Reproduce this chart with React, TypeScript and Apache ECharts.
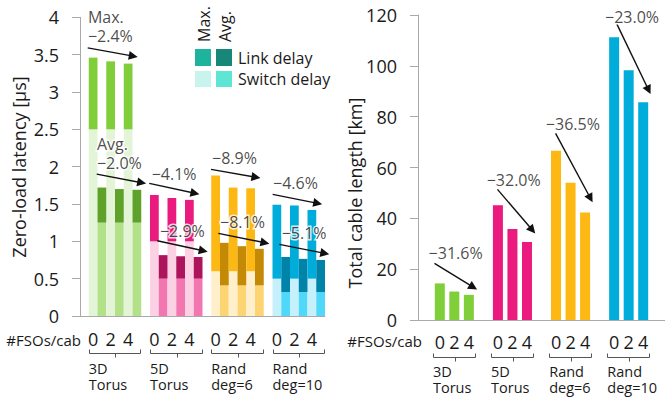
import React, { useEffect, useRef } from "react";
import * as echarts from "echarts";

// ---------- data ----------
const topologies = [
  ["3D", "Torus"],
  ["5D", "Torus"],
  ["Rand", "deg=6"],
  ["Rand", "deg=10"],
];
const fsoCounts = ["0", "2", "4"];

// zero-load latency [µs] per topology (rows) and #FSOs/cab (cols)
const maxSwitchDelay = [
  [2.5, 2.5, 2.5],
  [1.0, 1.0, 1.0],
  [0.6, 0.6, 0.6],
  [0.5, 0.5, 0.5],
];
const maxLinkDelay = [
  [0.96, 0.91, 0.88],
  [0.62, 0.58, 0.555],
  [1.28, 1.12, 1.11],
  [0.99, 0.98, 0.92],
];
const avgSwitchDelay = [
  [1.25, 1.25, 1.25],
  [0.5, 0.5, 0.5],
  [0.41, 0.41, 0.41],
  [0.32, 0.32, 0.32],
];
const avgLinkDelay = [
  [0.47, 0.45, 0.44],
  [0.315, 0.3, 0.29],
  [0.57, 0.525, 0.49],
  [0.47, 0.445, 0.43],
];

// total cable length [km]
const cableLength = [
  [14.4, 11.2, 9.9],
  [45.1, 35.8, 30.7],
  [66.6, 54.0, 42.3],
  [111.2, 98.3, 85.7],
];

const maxLatencyChange = ["−2.4%", "−4.1%", "−8.9%", "−4.6%"];
const avgLatencyChange = ["−2.0%", "−2.9%", "−8.1%", "−5.1%"];
const cableChange = ["−31.6%", "−32.0%", "−36.5%", "−23.0%"];

const latencyTicks = { min: 0, max: 4, interval: 0.5 };
const cableTicks = { min: 0, max: 120, interval: 20 };

// ---------- annotation layout (slot units / axis values) ----------
const maxArrowPos = [
  [0.88, 3.59, 6.09, 3.48],
  [7.92, 1.776, 13.14, 1.643],
  [14.97, 1.964, 20.11, 1.857],
  [22.02, 1.629, 27.17, 1.509],
];
const avgArrowPos = [
  [1.91, 1.9, 7.05, 1.785],
  [8.83, 1.008, 14.09, 0.874],
  [15.81, 1.107, 21.14, 0.981],
  [22.78, 0.96, 27.98, 0.839],
];
const maxLabelPos = [
  [0.91, 3.75],
  [8.19, 1.9],
  [15.09, 2.122],
  [22.06, 1.78],
];
const avgLabelPos = [
  [1.94, 2.055],
  [9.14, 1.138],
  [16.0, 1.258],
  [23.05, 1.11],
];
const maxHeadPos = [0.91, 4.01];
const avgHeadPos = [1.94, 2.31];
const cableArrowPos = [
  [1.133, 22.3, 3.8, 12.9],
  [5.47, 51.4, 7.87, 35.4],
  [9.47, 73.45, 11.87, 47.9],
  [13.69, 116.4, 15.87, 90.5],
];
const cableLabelPos = [
  [0.73, 26.4],
  [4.73, 55.1],
  [8.8, 77.3],
  [12.87, 119.4],
];

// ---------- styles ----------
const FONT = "'Open Sans', 'Noto Sans', sans-serif";
const TEXT = "#1a1a1a";
const AXIS = "#a9a9a9";
const palette = [
  { maxLink: "#80cf3a", maxSwitch: "#e4f4d7", avgLink: "#5ea22a", avgSwitch: "#b2e18a" },
  { maxLink: "#ea1a7e", maxSwitch: "#fcd1e4", avgLink: "#ae145c", avgSwitch: "#f277b0" },
  { maxLink: "#fdb814", maxSwitch: "#fff0cb", avgLink: "#c48a06", avgSwitch: "#fdd472" },
  { maxLink: "#00acd9", maxSwitch: "#c6f0fb", avgLink: "#0083a8", avgSwitch: "#50d8fa" },
];
const legendColors = { maxLink: "#1db39c", avgLink: "#17877a", maxSwitch: "#c9f4ee", avgSwitch: "#5ee5d4" };

const LEFT_SLOTS = 28; // 4 groups x (1 gap + 6 bars)
const RIGHT_SLOTS = 17; // 4 groups x (1 gap + 3 bars) + trailing gap

export default function App() {
  const ref = useRef<HTMLDivElement>(null);

  useEffect(() => {
    document.body.style.margin = "0";
    const el = ref.current!;
    const chart = echarts.init(el, null, { renderer: "svg" });

    // left chart slots
    const leftCats: string[] = [];
    const leftLabels: string[] = [];
    const switchData: any[] = [];
    const linkData: any[] = [];
    for (let s = 0; s < LEFT_SLOTS; s++) {
      const g = Math.floor(s / 7);
      const k = s % 7;
      leftCats.push("s" + s);
      if (k === 0) {
        leftLabels.push("");
        switchData.push("-");
        linkData.push("-");
        continue;
      }
      const bar = k - 1;
      const f = Math.floor(bar / 2);
      const isAvg = bar % 2 === 1;
      const pal = palette[g];
      leftLabels.push(isAvg ? "" : fsoCounts[f]);
      switchData.push({
        value: isAvg ? avgSwitchDelay[g][f] : maxSwitchDelay[g][f],
        itemStyle: { color: isAvg ? pal.avgSwitch : pal.maxSwitch },
      });
      linkData.push({
        value: isAvg ? avgLinkDelay[g][f] : maxLinkDelay[g][f],
        itemStyle: { color: isAvg ? pal.avgLink : pal.maxLink },
      });
    }

    // right chart slots
    const rightCats: string[] = [];
    const rightLabels: string[] = [];
    const cableData: any[] = [];
    for (let s = 0; s < RIGHT_SLOTS; s++) {
      const g = Math.floor(s / 4);
      const k = s % 4;
      rightCats.push("r" + s);
      if (k === 0 || g > 3) {
        rightLabels.push("");
        cableData.push("-");
        continue;
      }
      const f = k - 1;
      rightLabels.push(fsoCounts[f]);
      cableData.push({ value: cableLength[g][f], itemStyle: { color: palette[g].maxLink } });
    }

    const annLabel = {
      show: true,
      position: "right",
      distance: 0,
      formatter: "{b}",
      fontSize: 16,
      fontFamily: FONT,
      color: TEXT,
      textBorderColor: "#fff",
      textBorderWidth: 3,
    };
    const arrowStyle = {
      silent: true,
      symbol: ["none", "triangle"],
      symbolSize: 9,
      lineStyle: { color: "#111", width: 1.4, type: "solid" },
      itemStyle: { color: "#111" },
      label: { show: false },
      emphasis: { disabled: true },
    };
    const toLines = (arr: number[][]) =>
      arr.map((a) => [{ coord: [a[0], a[1]] }, { coord: [a[2], a[3]] }]);

    const leftAnnData = [
      { name: "Max.", value: maxHeadPos },
      { name: "Avg.", value: avgHeadPos },
      ...maxLatencyChange.map((t, i) => ({ name: t, value: maxLabelPos[i] })),
      ...avgLatencyChange.map((t, i) => ({ name: t, value: avgLabelPos[i] })),
    ];
    const rightAnnData = cableChange.map((t, i) => ({ name: t, value: cableLabelPos[i] }));

    const yAxisCommon = {
      axisLine: { show: true, lineStyle: { color: AXIS, width: 1 } },
      axisTick: { show: true, length: 8, inside: false, lineStyle: { color: AXIS } },
      splitLine: { show: false },
      axisLabel: { fontSize: 18, fontFamily: FONT, color: TEXT, margin: 21 },
    };

    const option: any = {
      animation: false,
      backgroundColor: "#fff",
      textStyle: { fontFamily: FONT },
      grid: [
        { left: 80, top: 17.3, width: 245, height: 298.7 },
        { left: 418, top: 15, width: 255, height: 305 },
      ],
      xAxis: [
        {
          type: "category",
          gridIndex: 0,
          data: leftCats,
          axisLine: { show: true, lineStyle: { color: AXIS } },
          axisTick: { show: false },
          axisLabel: {
            interval: 0,
            formatter: (_v: string, i: number) => leftLabels[i],
            fontSize: 18,
            fontFamily: FONT,
            color: TEXT,
            margin: 14,
          },
        },
        { type: "value", gridIndex: 0, min: 0, max: LEFT_SLOTS, show: false },
        {
          type: "category",
          gridIndex: 1,
          data: rightCats,
          axisLine: { show: true, lineStyle: { color: AXIS } },
          axisTick: { show: false },
          axisLabel: {
            interval: 0,
            formatter: (_v: string, i: number) => rightLabels[i],
            fontSize: 18,
            fontFamily: FONT,
            color: TEXT,
            margin: 13,
          },
        },
        { type: "value", gridIndex: 1, min: 0, max: RIGHT_SLOTS, show: false },
      ],
      yAxis: [
        { type: "value", gridIndex: 0, ...latencyTicks, ...yAxisCommon },
        { type: "value", gridIndex: 1, ...cableTicks, ...yAxisCommon },
      ],
      series: [
        {
          name: "Switch delay",
          type: "bar",
          xAxisIndex: 0,
          yAxisIndex: 0,
          stack: "latency",
          barCategoryGap: "0%",
          data: switchData,
          silent: true,
        },
        {
          name: "Link delay",
          type: "bar",
          xAxisIndex: 0,
          yAxisIndex: 0,
          stack: "latency",
          barCategoryGap: "0%",
          data: linkData,
          silent: true,
        },
        {
          name: "Total cable length",
          type: "bar",
          xAxisIndex: 2,
          yAxisIndex: 1,
          barWidth: 10,
          data: cableData,
          silent: true,
        },
        {
          name: "latency annotations",
          type: "scatter",
          xAxisIndex: 1,
          yAxisIndex: 0,
          symbolSize: 0,
          clip: false,
          silent: true,
          label: annLabel,
          data: leftAnnData,
          markLine: { ...arrowStyle, data: [...toLines(maxArrowPos), ...toLines(avgArrowPos)] },
          z: 5,
        },
        {
          name: "cable annotations",
          type: "scatter",
          xAxisIndex: 3,
          yAxisIndex: 1,
          symbolSize: 0,
          clip: false,
          silent: true,
          label: annLabel,
          data: rightAnnData,
          markLine: { ...arrowStyle, data: toLines(cableArrowPos) },
          z: 5,
        },
      ],
    };
    chart.setOption(option);

    // ---------- graphics: brackets, group names, axis names, legend ----------
    const g: any[] = [];
    const bracket = (x1: number, x2: number, yTop: number, yBar: number, yMid: number) => {
      g.push({
        type: "polyline",
        shape: { points: [[x1, yTop], [x1, yBar], [x2, yBar], [x2, yTop]] },
        style: { stroke: "#555", lineWidth: 1, fill: null },
        silent: true,
      });
      const m = Math.round((x1 + x2) / 2) + 0.5;
      g.push({
        type: "line",
        shape: { x1: m, y1: yBar, x2: m, y2: yMid },
        style: { stroke: "#555", lineWidth: 1 },
        silent: true,
      });
    };
    const plainText = (
      x: number,
      y: number,
      text: string,
      size: number,
      align: string,
      rotation = 0,
      vAlign = "middle"
    ) => {
      g.push({
        type: "text",
        x,
        y,
        rotation,
        silent: true,
        style: {
          text,
          fontSize: size,
          fontFamily: FONT,
          fill: TEXT,
          textAlign: align,
          textVerticalAlign: vAlign,
        },
      });
    };
    for (let i = 0; i < 4; i++) {
      const x1 = chart.convertToPixel({ xAxisIndex: 1 } as any, 1 + 7 * i) as any as number;
      const x2 = chart.convertToPixel({ xAxisIndex: 1 } as any, 7 + 7 * i) as any as number;
      bracket(Math.round(x1) + 0.5, Math.round(x2) - 0.5, 349.5, 353.5, 357.5);
      plainText(x1, 368.5, topologies[i][0], 14.5, "left");
      plainText(x1, 384.5, topologies[i][1], 14.5, "left");
      const r1 = chart.convertToPixel({ xAxisIndex: 3 } as any, 1 + 4 * i + 1 / 6) as any as number;
      const r2 = chart.convertToPixel({ xAxisIndex: 3 } as any, 4 + 4 * i - 1 / 6) as any as number;
      bracket(Math.round(r1) - 1.5, Math.round(r2) + 1.5, 353.5, 357.5, 361.5);
      plainText(r1 - 2, 371, topologies[i][0], 14.5, "left");
      plainText(r1 - 2, 387, topologies[i][1], 14.5, "left");
    }

    plainText(81, 340, "#FSOs/cab", 15, "right");
    plainText(422, 341, "#FSOs/cab", 15, "right");
    plainText(19, 167, "Zero-load latency [µs]", 18, "center", Math.PI / 2);
    plainText(355, 193, "Total cable length [km]", 18, "center", Math.PI / 2);

    // legend
    const rect = (x: number, y: number, w: number, h: number, color: string) =>
      g.push({ type: "rect", shape: { x, y, width: w, height: h }, style: { fill: color }, silent: true });
    rect(195, 49, 16, 17, legendColors.maxLink);
    rect(216, 49, 16, 17, legendColors.avgLink);
    rect(195, 71, 16, 16, legendColors.maxSwitch);
    rect(216, 71, 16, 16, legendColors.avgSwitch);
    plainText(238, 58, "Link delay", 16, "left");
    plainText(238, 79, "Switch delay", 16, "left");
    plainText(204, 42, "Max.", 16, "left", Math.PI / 2);
    plainText(224.5, 42, "Avg.", 16, "left", Math.PI / 2);

    chart.setOption({ graphic: g });

    return () => chart.dispose();
  }, []);

  return (
    <div
      ref={ref}
      style={{ width: 665, height: 399, position: "absolute", left: 0, top: 0 }}
    />
  );
}
